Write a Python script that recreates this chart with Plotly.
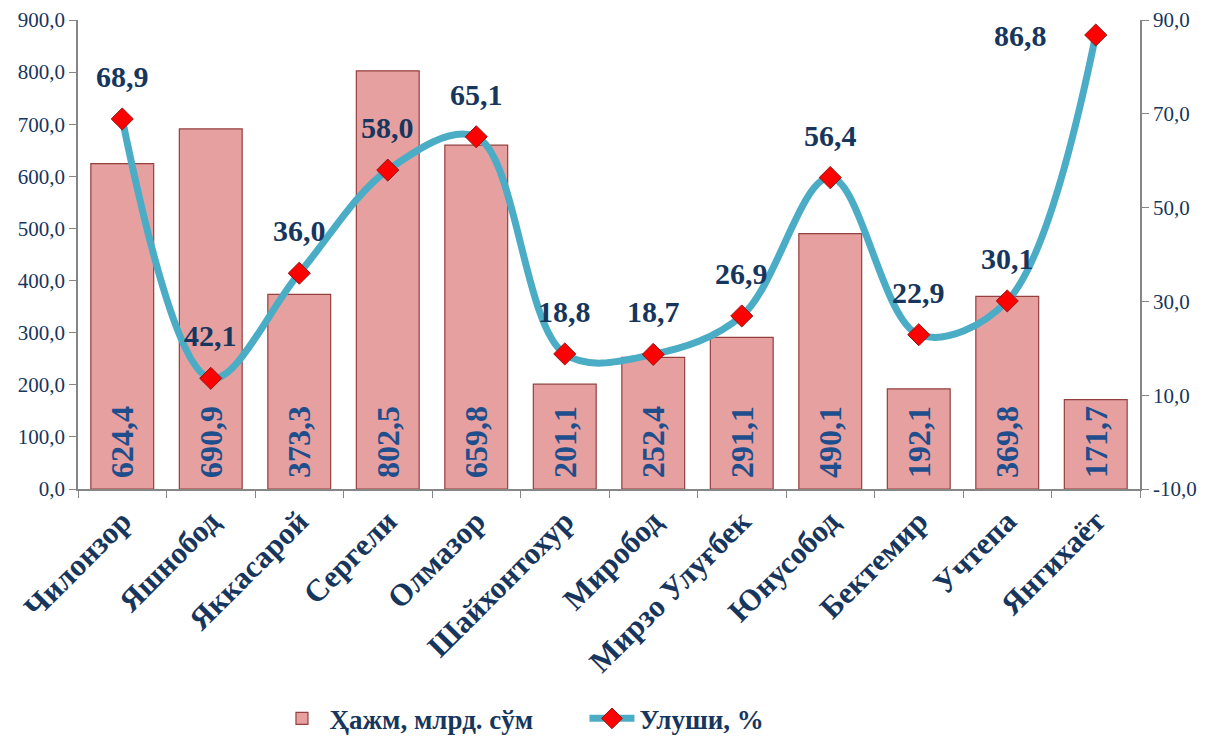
import plotly.graph_objects as go

categories = ['Чилонзор', 'Яшнобод', 'Яккасарой', 'Сергели', 'Олмазор', 'Шайхонтохур',
              'Миробод', 'Мирзо Улуғбек', 'Юнусобод', 'Бектемир', 'Учтепа', 'Янгихаёт']
volume = [624.4, 690.9, 373.3, 802.5, 659.8, 201.1, 252.4, 291.1, 490.1, 192.1, 369.8, 171.7]
# plotted positions of the share markers (as drawn) and their printed labels
share_plotted = [68.9, 13.6, 36.0, 58.0, 65.1, 18.8, 18.7, 26.9, 56.4, 22.9, 30.1, 86.8]
share_labels = ['68,9', '42,1', '36,0', '58,0', '65,1', '18,8', '18,7', '26,9', '56,4', '22,9', '30,1', '86,8']
left_ticks = [0, 100, 200, 300, 400, 500, 600, 700, 800, 900]
right_ticks = [-10, 10, 30, 50, 70, 90]

def fmt(v):
    return f"{v:.1f}".replace('.', ',')

FONT = "Liberation Serif, Times New Roman, DejaVu Serif, serif"
NAVY = "#17365D"
BARTXT = "#1F4E8C"
AXIS = "#868686"

fig = go.Figure()
fig.add_trace(go.Bar(
    x=categories, y=volume, name='Ҳажм, млрд. сўм',
    marker=dict(color='#E5A09F', line=dict(color='#93403E', width=1.2)),
    width=0.71,
    text=['\u00a0' + fmt(v) for v in volume], textposition='inside', insidetextanchor='start',
    textangle=-90, textfont=dict(family=FONT, size=32, color=BARTXT, weight='bold'),
    cliponaxis=False,
))
fig.add_trace(go.Scatter(
    x=categories, y=share_plotted, name='Улуши, %', yaxis='y2',
    mode='lines+markers',
    line=dict(color='#4BACC6', width=7, shape='spline', smoothing=1.0),
    marker=dict(symbol='diamond', size=17, color='#FF0000', line=dict(color='#8B1A1A', width=1)),
    cliponaxis=False,
))

for i, (c, v, t) in enumerate(zip(categories, share_plotted, share_labels)):
    last = i == len(categories) - 1
    fig.add_annotation(
        x=c, y=v, xref='x', yref='y2', text=t, showarrow=False,
        yanchor='middle' if last else 'bottom',
        xshift=-75 if last else 0, yshift=0 if last else 24,
        font=dict(family=FONT, size=30, color=NAVY, weight='bold'),
    )

fig.update_layout(
    width=1208, height=729,
    margin=dict(l=70, r=76, t=12, b=248, autoexpand=False),
    paper_bgcolor='white', plot_bgcolor='white',
    bargap=0.29,
    showlegend=True,
    legend=dict(orientation='h', x=0.185, xanchor='left', y=-0.49, yanchor='middle',
                font=dict(family=FONT, size=27, color=NAVY, weight='bold'),
                entrywidth=250, entrywidthmode='pixels', itemwidth=45),
    xaxis=dict(range=[-0.5, len(categories) - 0.5],
               showline=True, linecolor=AXIS, linewidth=1.5, ticks='outside', tickcolor=AXIS,
               ticklen=7, tickson='boundaries', tickangle=-45, automargin=False,
               tickfont=dict(family=FONT, size=31, color=NAVY, weight='bold'), showgrid=False),
    yaxis=dict(range=[0, 900], tickvals=left_ticks, ticktext=[fmt(v) for v in left_ticks],
               showline=True, linecolor=AXIS, linewidth=1.5, ticks='outside', tickcolor=AXIS,
               ticklen=7, showgrid=False, zeroline=False, automargin=False,
               ticklabeloverflow='allow',
               tickfont=dict(family=FONT, size=21, color=NAVY)),
    yaxis2=dict(range=[-10, 90], tickvals=right_ticks, ticktext=[fmt(v) for v in right_ticks],
                overlaying='y', side='right', showline=True, linecolor=AXIS, linewidth=1.5,
                ticks='outside', tickcolor=AXIS, ticklen=7, showgrid=False, zeroline=False,
                automargin=False, ticklabeloverflow='allow',
                tickfont=dict(family=FONT, size=21, color=NAVY)),
)

fig.write_html("out.html")
